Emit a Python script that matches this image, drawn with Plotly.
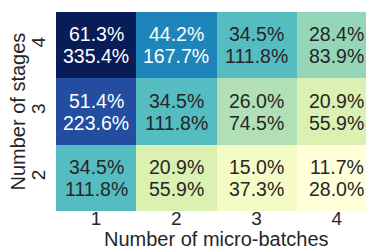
import plotly.graph_objects as go

micro_batches = ["1", "2", "3", "4"]
stages = ["2", "3", "4"]
# first line (drives colour) and second line values, rows = stages 2,3,4
pct_top = [
    [34.5, 20.9, 15.0, 11.7],
    [51.4, 34.5, 26.0, 20.9],
    [61.3, 44.2, 34.5, 28.4],
]
pct_bottom = [
    [111.8, 55.9, 37.3, 28.0],
    [223.6, 111.8, 74.5, 55.9],
    [335.4, 167.7, 111.8, 83.9],
]

ylgnbu = ["#ffffd9", "#edf8b1", "#c7e9b4", "#7fcdbb", "#41b6c4",
          "#1d91c0", "#225ea8", "#253494", "#081d58"]
colorscale = [[i / (len(ylgnbu) - 1), c] for i, c in enumerate(ylgnbu)]

zmin = min(min(r) for r in pct_top)
zmax = max(max(r) for r in pct_top)


def hex_rgb(h):
    h = h.lstrip("#")
    return [int(h[i:i + 2], 16) / 255 for i in (0, 2, 4)]


def color_at(v):
    t = (v - zmin) / (zmax - zmin) * (len(ylgnbu) - 1)
    i = min(int(t), len(ylgnbu) - 2)
    f = t - i
    a, b = hex_rgb(ylgnbu[i]), hex_rgb(ylgnbu[i + 1])
    return [a[k] + (b[k] - a[k]) * f for k in range(3)]


def luminance(rgb):
    c = [x / 12.92 if x <= 0.03928 else ((x + 0.055) / 1.055) ** 2.4 for x in rgb]
    return 0.2126 * c[0] + 0.7152 * c[1] + 0.0722 * c[2]


FONT = "Liberation Sans, Arial, sans-serif"
DARK = "#262626"

fig = go.Figure(go.Heatmap(
    x=micro_batches, y=stages, z=pct_top,
    colorscale=colorscale, zmin=zmin, zmax=zmax,
    showscale=False, hoverinfo="skip", xgap=0, ygap=0,
))

annotations = []
for r, st in enumerate(stages):
    for c, mb in enumerate(micro_batches):
        col = DARK if luminance(color_at(pct_top[r][c])) > 0.408 else "white"
        for txt, shift in ((f"{pct_top[r][c]:.1f}%", 11), (f"{pct_bottom[r][c]:.1f}%", -11)):
            annotations.append(dict(
                x=c, y=r, xref="x", yref="y", text=txt, showarrow=False,
                yshift=shift, font=dict(family=FONT, size=19.5, color=col),
            ))

# axis titles
annotations.append(dict(
    text="Number of micro-batches", xref="paper", yref="paper", x=0.5, y=0,
    xanchor="center", yanchor="top", yshift=-15, showarrow=False,
    font=dict(family=FONT, size=20, color=DARK),
))
annotations.append(dict(
    text="Number of stages", xref="paper", yref="paper", x=0, y=0.5,
    xanchor="center", yanchor="middle", xshift=-39, textangle=-90, showarrow=False,
    font=dict(family=FONT, size=20, color=DARK),
))

fig.update_layout(
    width=374, height=251,
    margin=dict(l=48, r=5, t=4, b=48),
    paper_bgcolor="white", plot_bgcolor="white",
    font=dict(family=FONT, size=19, color=DARK),
    annotations=annotations,
)
fig.update_xaxes(
    type="category", automargin=False, range=[-0.5, len(micro_batches) - 0.5],
    tickfont=dict(size=19, color=DARK), ticks="", showgrid=False, zeroline=False,
    showline=False, ticklabelstandoff=-6,
)
fig.update_yaxes(
    type="category", automargin=False, range=[-0.5, len(stages) - 0.5],
    tickfont=dict(size=19, color=DARK), tickangle=-90, ticks="", showgrid=False,
    zeroline=False, showline=False, ticklabelstandoff=6,
)

fig.write_html("out.html")
